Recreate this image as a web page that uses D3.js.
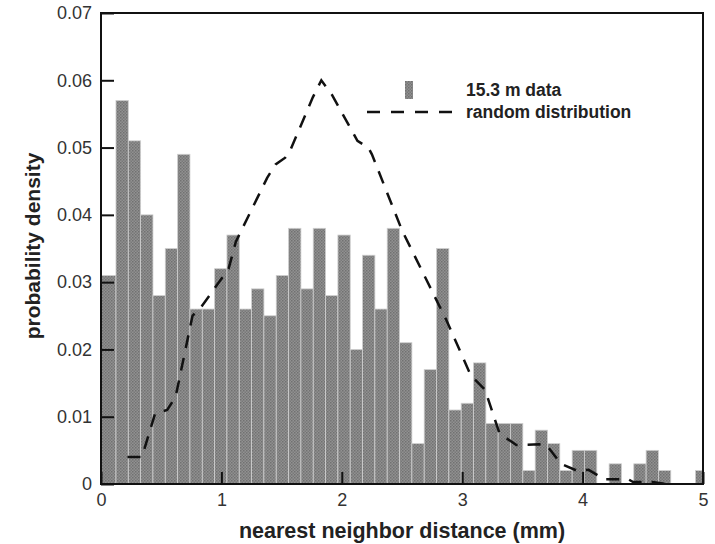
<!DOCTYPE html>
<html lang="en">
<head>
    <meta charset="UTF-8">
    <title>Nearest neighbor distance</title>
    <script src="https://d3js.org/d3.v7.min.js"></script>
    <style>
        body { margin: 0; background: #fff; }
        svg { font-family: "Liberation Sans", Arial, sans-serif; }
        .tick text { font-size: 18px; fill: #333; }
        .tick line { stroke: #111; stroke-width: 2; }
    </style>
</head>
<body>
    <svg width="715" height="544"></svg>
    <script>
        // histogram: 15.3 m data (bins of ~0.1 mm, first edge slightly off zero)
        const firstEdge = 0.022;
        const binWidth = 0.1024;
        const density = [
            0.031, 0.057, 0.051, 0.040, 0.028, 0.035, 0.049, 0.026, 0.026, 0.032,
            0.037, 0.026, 0.029, 0.025, 0.031, 0.038, 0.029, 0.038, 0.028, 0.037,
            0.020, 0.034, 0.026, 0.038, 0.021, 0.006, 0.017, 0.035, 0.011, 0.012,
            0.018, 0.009, 0.009, 0.009, 0.002, 0.008, 0.006, 0.002, 0.005, 0.005,
            0, 0.003, 0, 0.003, 0.005, 0.002, 0, 0, 0.002
        ];

        // random distribution curve
        const randX = [0.22, 0.34, 0.45, 0.55, 0.62, 0.76, 0.84, 1.06, 1.12, 1.38, 1.45, 1.53,
            1.57, 1.76, 1.83, 1.92, 2.13, 2.22, 2.25, 2.5, 2.87, 3.07, 3.19, 3.31, 3.45,
            3.64, 3.70, 3.82, 3.95, 4.05, 4.18, 4.38, 4.42, 4.58, 4.70];
        const randY = [0.004, 0.004, 0.0105, 0.011, 0.013, 0.025, 0.0265, 0.032, 0.036, 0.0455, 0.0475, 0.0485,
            0.0495, 0.0575, 0.060, 0.0578, 0.051, 0.050, 0.049, 0.0377, 0.0243, 0.0162, 0.014, 0.0075, 0.0058,
            0.0059, 0.0058, 0.003, 0.002, 0.0021, 0.0007, 0.0007, 0.0003, 0.0003, 0];

        const xTicks = [0, 1, 2, 3, 4, 5];
        const yTicks = [0, 0.01, 0.02, 0.03, 0.04, 0.05, 0.06, 0.07];

        const margin = { top: 13, right: 12, bottom: 60, left: 101 };
        const width = 715, height = 544;

        const svg = d3.select("svg");

        const x = d3.scaleLinear().domain([0, 5]).range([margin.left, width - margin.right]);
        const y = d3.scaleLinear().domain([0, 0.07]).range([height - margin.bottom, margin.top]);

        const defs = svg.append("defs");
        const pat = defs.append("pattern")
            .attr("id", "halftone")
            .attr("width", 3).attr("height", 3)
            .attr("patternUnits", "userSpaceOnUse");
        pat.append("rect").attr("width", 3).attr("height", 3).attr("fill", "#919191");
        pat.append("rect").attr("width", 1.5).attr("height", 1.5).attr("fill", "#717171");
        pat.append("rect").attr("x", 1.5).attr("y", 1.5).attr("width", 1.5).attr("height", 1.5).attr("fill", "#797979");

        defs.append("clipPath").attr("id", "plotclip")
            .append("rect")
            .attr("x", x(0)).attr("y", y(0.07))
            .attr("width", x(5) - x(0)).attr("height", y(0) - y(0.07));

        const bins = density.map((d, i) => ({
            x0: i === 0 ? 0 : firstEdge + i * binWidth,
            x1: Math.min(5, firstEdge + (i + 1) * binWidth),
            v: d
        }));

        svg.append("g")
            .attr("clip-path", "url(#plotclip)")
            .selectAll("rect")
            .data(bins.filter(b => b.v > 0))
            .join("rect")
            .attr("x", d => x(d.x0))
            .attr("y", d => y(d.v))
            .attr("width", d => x(d.x1) - x(d.x0))
            .attr("height", d => y(0) - y(d.v))
            .attr("fill", "url(#halftone)")
            .attr("stroke", "#cfcfcf")
            .attr("stroke-width", 0.8);

        const line = d3.line()
            .x((d, i) => x(randX[i]))
            .y(d => y(d));

        svg.append("path")
            .datum(randY)
            .attr("d", line)
            .attr("fill", "none")
            .attr("stroke", "#111")
            .attr("stroke-width", 2.5)
            .attr("stroke-dasharray", "13,10");

        // axes, ticks pointing inward
        const xAxis = d3.axisBottom(x)
            .tickValues(xTicks)
            .tickSize(-12)
            .tickPadding(9)
            .tickFormat(d3.format("d"));

        svg.append("g")
            .attr("transform", `translate(0,${y(0)})`)
            .call(xAxis)
            .call(g => g.select(".domain").remove());

        const yAxis = d3.axisLeft(y)
            .tickValues(yTicks)
            .tickSize(-13)
            .tickPadding(9)
            .tickFormat(d => d === 0 ? "0" : d3.format(".2f")(d));

        svg.append("g")
            .attr("transform", `translate(${x(0)},0)`)
            .call(yAxis)
            .call(g => g.select(".domain").remove());

        // frame
        svg.append("rect")
            .attr("x", x(0)).attr("y", y(0.07))
            .attr("width", x(5) - x(0)).attr("height", y(0) - y(0.07))
            .attr("fill", "none")
            .attr("stroke", "#111")
            .attr("stroke-width", 2);

        // axis titles
        svg.append("text")
            .attr("x", (x(0) + x(5)) / 2)
            .attr("y", 538)
            .attr("text-anchor", "middle")
            .style("font-size", "21.5px")
            .style("font-weight", "bold")
            .attr("fill", "#222")
            .text("nearest neighbor distance (mm)");

        svg.append("text")
            .attr("transform", "translate(40,246) rotate(-90)")
            .attr("text-anchor", "middle")
            .style("font-size", "21px")
            .style("font-weight", "bold")
            .attr("fill", "#222")
            .text("probability density");

        // legend
        const legend = svg.append("g");
        legend.append("rect")
            .attr("x", 405).attr("y", 81)
            .attr("width", 8).attr("height", 18)
            .attr("fill", "url(#halftone)");
        legend.append("line")
            .attr("x1", 367).attr("x2", 453)
            .attr("y1", 112).attr("y2", 112)
            .attr("stroke", "#111")
            .attr("stroke-width", 2.5)
            .attr("stroke-dasharray", "13,11");
        legend.selectAll("text")
            .data(["15.3 m data", "random distribution"])
            .join("text")
            .attr("x", 466)
            .attr("y", (d, i) => 96 + i * 22)
            .style("font-size", "17.5px")
            .style("font-weight", "bold")
            .attr("fill", "#222")
            .text(d => d);
    </script>
</body>
</html>
